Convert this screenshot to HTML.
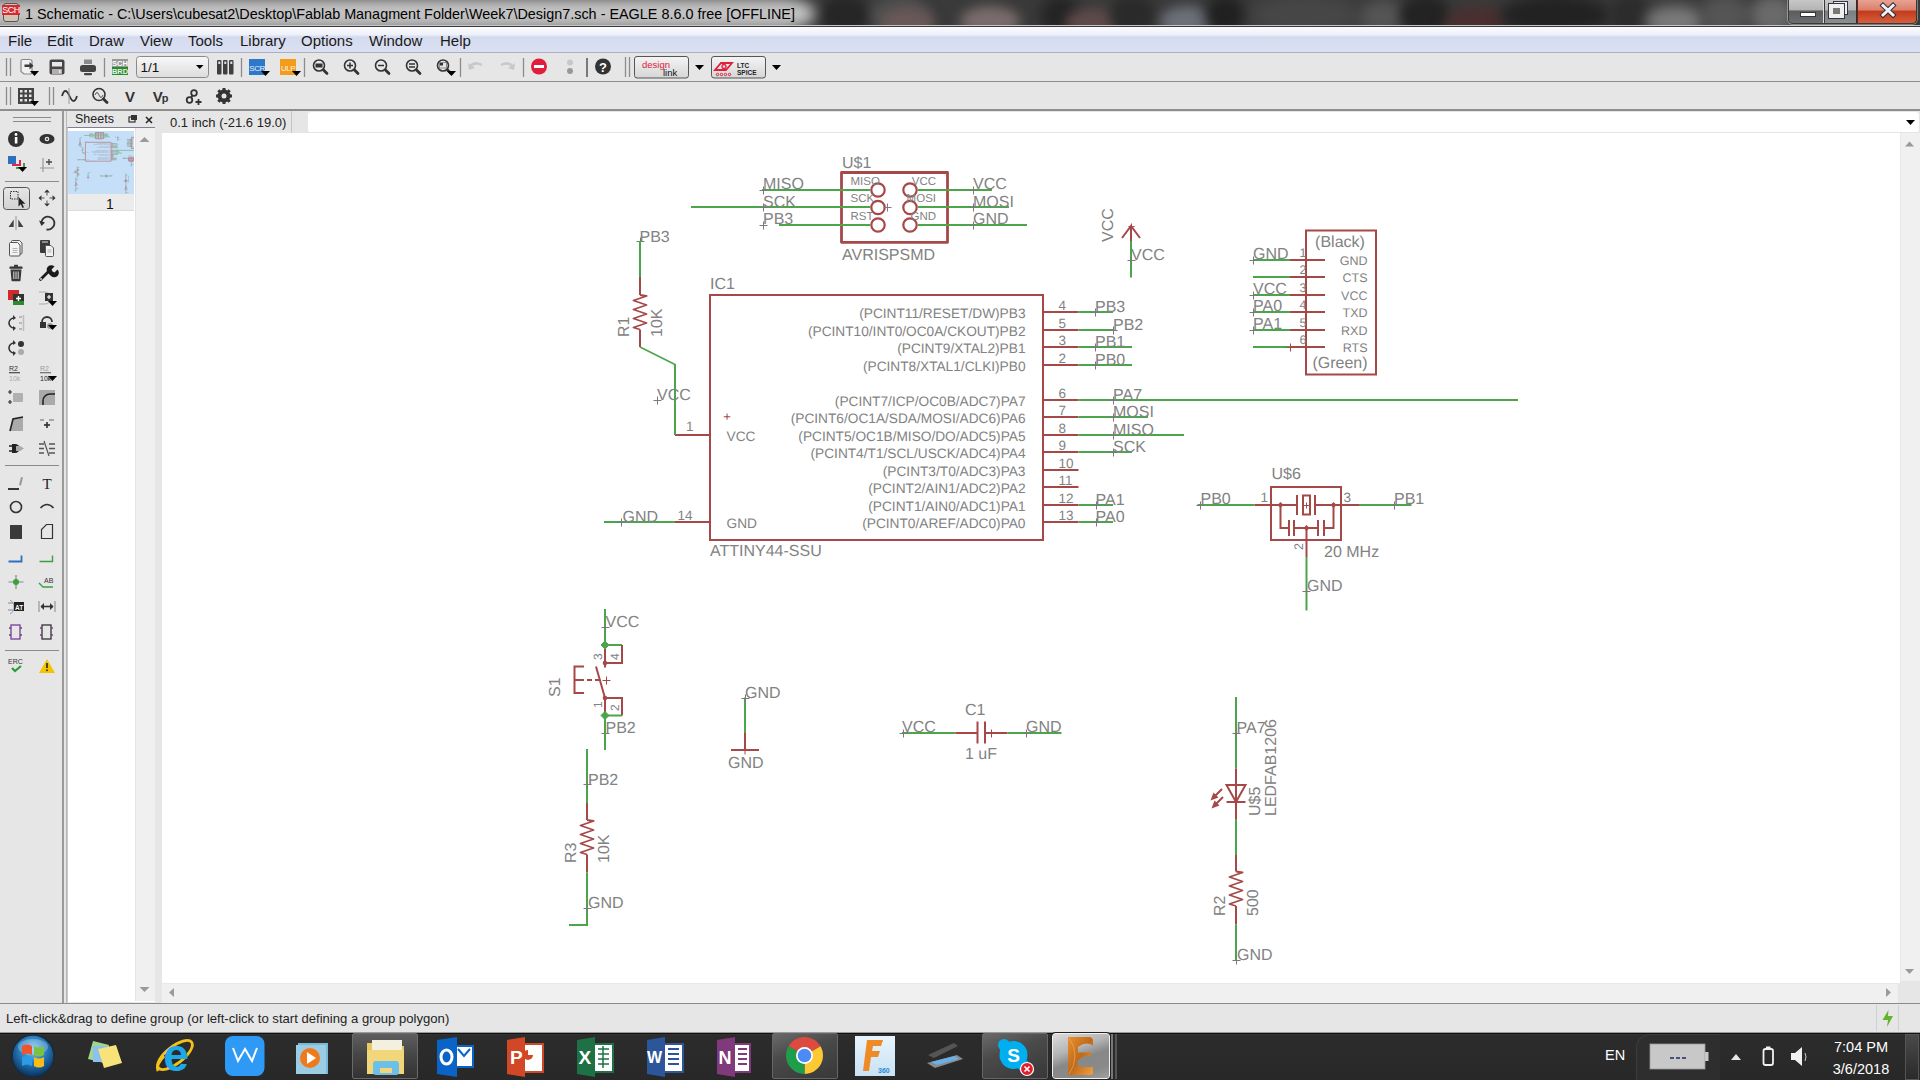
<!DOCTYPE html>
<html><head><meta charset="utf-8">
<style>
*{margin:0;padding:0;box-sizing:border-box}
html,body{width:1920px;height:1080px;overflow:hidden;background:#e6e6e6;font-family:"Liberation Sans",sans-serif}
.a{position:absolute}
#title{left:0;top:0;width:1920px;height:27px;background:#3a3a3a;overflow:hidden}
#menu{left:0;top:27px;width:1920px;height:26px;background:linear-gradient(180deg,#fbfcfe 0,#eef1f9 30%,#d5dbef 40%,#dbe1f2 100%);border-bottom:1px solid #a9b0c2}
#menu span{position:absolute;top:5px;font-size:15px;color:#1a1a1a}
#tb1{left:0;top:53px;width:1920px;height:29px;background:#e6e6e6;border-bottom:1px solid #8e8e8e}
#tb2{left:0;top:82px;width:1920px;height:29px;background:#e6e6e6;border-bottom:2px solid #8e8e8e}
#leftbar{left:0;top:111px;width:63px;height:893px;background:#e6e6e6;border-right:1px solid #9a9a9a}
#sheets{left:65px;top:111px;width:92px;height:893px;background:#e6e6e6}
#canvas{left:162px;top:133px;width:1738px;height:850px;background:#fff}
#status{left:0;top:1003px;width:1920px;height:30px;background:#e6e6e6;border-top:1px solid #8a8a8a}
#taskbar{left:0;top:1032px;width:1920px;height:48px;background:linear-gradient(180deg,#3a3a3a 0,#2c2c2c 8%,#282828 100%)}
.sep{position:absolute;width:2px;background:#8a8a8a}
</style></head><body>
<div id="title" class="a">
<div class="a" style="left:820px;top:-5px;width:50px;height:40px;background:#262626;border-radius:50%;filter:blur(6px)"></div><div class="a" style="left:870px;top:-5px;width:60px;height:40px;background:#4e4e4e;border-radius:50%;filter:blur(6px)"></div><div class="a" style="left:880px;top:8px;width:55px;height:30px;background:#6a5858;border-radius:50%;filter:blur(6px)"></div><div class="a" style="left:960px;top:6px;width:60px;height:30px;background:#7a6c6c;border-radius:50%;filter:blur(6px)"></div><div class="a" style="left:1040px;top:-5px;width:40px;height:40px;background:#242424;border-radius:50%;filter:blur(7px)"></div><div class="a" style="left:1065px;top:8px;width:55px;height:30px;background:#5e4a4a;border-radius:50%;filter:blur(6px)"></div><div class="a" style="left:1110px;top:-5px;width:45px;height:40px;background:#2a2a2a;border-radius:50%;filter:blur(6px)"></div><div class="a" style="left:1160px;top:6px;width:55px;height:30px;background:#6c7078;border-radius:50%;filter:blur(6px)"></div><div class="a" style="left:1205px;top:-5px;width:40px;height:40px;background:#202020;border-radius:50%;filter:blur(7px)"></div><div class="a" style="left:1250px;top:-5px;width:110px;height:40px;background:#474747;border-radius:50%;filter:blur(8px)"></div><div class="a" style="left:1360px;top:0px;width:45px;height:35px;background:#555;border-radius:50%;filter:blur(7px)"></div><div class="a" style="left:1400px;top:-5px;width:50px;height:40px;background:#232323;border-radius:50%;filter:blur(6px)"></div><div class="a" style="left:1445px;top:8px;width:65px;height:30px;background:#4c2e2e;border-radius:50%;filter:blur(7px)"></div><div class="a" style="left:1500px;top:-5px;width:110px;height:40px;background:#222;border-radius:50%;filter:blur(7px)"></div><div class="a" style="left:1610px;top:-5px;width:40px;height:40px;background:#2c2c2c;border-radius:50%;filter:blur(6px)"></div><div class="a" style="left:1645px;top:6px;width:60px;height:30px;background:#7a7a7a;border-radius:50%;filter:blur(7px)"></div><div class="a" style="left:1700px;top:-5px;width:50px;height:40px;background:#555;border-radius:50%;filter:blur(7px)"></div><div class="a" style="left:1750px;top:-5px;width:45px;height:40px;background:#6a6a6a;border-radius:50%;filter:blur(7px)"></div>
<div class="a" style="left:-30px;top:-3px;width:845px;height:34px;border-radius:0 40px 40px 0/0 17px 17px 0;background:linear-gradient(180deg,#9a9a9a 0,#cdcdcd 30%,#c2c2c2 65%,#a6a6a6 100%);filter:blur(7px)"></div>
<div class="a" style="left:3px;top:3px;width:16px;height:19px;border:1px solid #555;border-radius:3px;background:#cfc4b4"></div>
<div class="a" style="left:2px;top:5px;width:18px;height:10px;background:#d42b32;color:#fff;font-size:9px;line-height:10px;text-align:center;letter-spacing:-.5px">SCH</div>
<div class="a" style="left:25px;top:6px;font-size:14.4px;color:#000;white-space:nowrap">1 Schematic - C:\Users\cubesat2\Desktop\Fablab Managment Folder\Week7\Design7.sch - EAGLE 8.6.0 free [OFFLINE]</div>
<div class="a" style="left:1788px;top:-1px;width:129px;height:25px;border:1px solid #3a3a3a;border-top:none;border-radius:0 0 5px 5px;overflow:hidden;box-shadow:0 0 0 1px rgba(255,255,255,.35)">
<div class="a" style="left:0;top:0;width:35px;height:24px;background:linear-gradient(180deg,#c9c9c9 0,#b4b4b4 45%,#5c5c5c 50%,#6a6f70 100%);border-right:1px solid #ddd"></div>
<div class="a" style="left:36px;top:0;width:32px;height:24px;background:linear-gradient(180deg,#c9c9c9 0,#b4b4b4 45%,#7a7f80 50%,#8a9090 100%);border-right:1px solid #5a1a10"></div>
<div class="a" style="left:69px;top:0;width:60px;height:24px;background:linear-gradient(180deg,#eaa696 0,#d9806c 45%,#c43a1c 52%,#d6603e 100%)"></div>
<div class="a" style="left:11px;top:13px;width:16px;height:5px;background:#fff;border:1px solid #334"></div>
<div class="a" style="left:44px;top:2px;width:15px;height:14px;background:#eee;border:1px solid #334"></div>
<div class="a" style="left:40px;top:5px;width:15px;height:14px;border:4px solid #eee;outline:1px solid #334;background:#777"></div>
<svg class="a" style="left:84px;top:0" width="30" height="24"><path d="M10 6.5 L20 16 M20 6.5 L10 16" stroke="#2a3040" stroke-width="5" stroke-linecap="square"/><path d="M10 6.5 L20 16 M20 6.5 L10 16" stroke="#f2f2f2" stroke-width="3" stroke-linecap="square"/></svg>
</div>
<div class="a" style="left:0;top:25px;width:1920px;height:1px;background:#c6c6c6"></div>
<div class="a" style="left:0;top:26px;width:1920px;height:1px;background:#3a3a3a"></div>
</div>
<div id="menu" class="a">
<span style="left:8px">File</span><span style="left:47px">Edit</span><span style="left:89px">Draw</span><span style="left:140px">View</span><span style="left:188px">Tools</span><span style="left:240px">Library</span><span style="left:301px">Options</span><span style="left:369px">Window</span><span style="left:440px">Help</span>
</div>
<div id="tb1" class="a"></div>
<div id="tb2" class="a"></div>
<svg class="a" style="left:0;top:53px" width="800" height="58" viewBox="0 53 800 58">
<g stroke="#8c8c8c" stroke-width="1.3">
<line x1="6.5" y1="58" x2="6.5" y2="76"/><line x1="10.5" y1="58" x2="10.5" y2="76"/>
<line x1="104.5" y1="58" x2="104.5" y2="77"/><line x1="241.5" y1="58" x2="241.5" y2="77"/>
<line x1="304.5" y1="58" x2="304.5" y2="77"/><line x1="460.5" y1="58" x2="460.5" y2="77"/>
<line x1="523.5" y1="58" x2="523.5" y2="77"/><line x1="625.5" y1="57" x2="625.5" y2="77"/><line x1="629.5" y1="57" x2="629.5" y2="77"/>
<line x1="6.5" y1="87" x2="6.5" y2="105"/><line x1="10.5" y1="87" x2="10.5" y2="105"/>
<line x1="49.5" y1="87" x2="49.5" y2="105"/><line x1="53.5" y1="87" x2="53.5" y2="105"/>
</g>
<line x1="587" y1="58" x2="587" y2="77" stroke="#555" stroke-width="1.5"/>
<!-- open -->
<path d="M21 61 q0-1.5 1.5-1.5 h7 q2 0 2.5 1.5 v11 q0 2-2 2 h-6 l-3-2.5z" fill="#f0f0f0" stroke="#888" stroke-width="1.2"/>
<path d="M24.5 64.5 h5 v-2.5 l4 3.7 -4 3.7 v-2.5 h-5z" fill="#3a3a3a"/>
<path d="M30 71 h9 l-4.5 5z" fill="#000"/>
<!-- save -->
<rect x="49.5" y="59.5" width="15" height="15" rx="2" fill="#454545"/>
<rect x="52" y="62" width="10" height="4.5" fill="#e6e6e6"/>
<rect x="52" y="69" width="10" height="5" fill="#b4aeae"/>
<rect x="59" y="70" width="1.5" height="3" fill="#eee"/>
<!-- print -->
<rect x="84" y="59.5" width="8" height="4.5" fill="#8a8a8a"/>
<rect x="80" y="65" width="16" height="7" rx="2.5" fill="#444"/>
<rect x="84" y="73" width="8" height="2.2" rx="1" fill="#444"/>
<!-- sch brd -->
<rect x="112" y="59" width="16" height="8" fill="#9a9a9a"/>
<rect x="112" y="67" width="16" height="8" fill="#2b8a2b"/>
<text x="120" y="65.8" font-size="7.5" fill="#fff" text-anchor="middle" font-family="Liberation Sans" font-weight="bold">SCH</text>
<text x="120" y="74" font-size="7.5" fill="#e8f5e8" text-anchor="middle" font-family="Liberation Sans" font-weight="bold">BRD</text>
<!-- combo -->
<defs><linearGradient id="cg" x1="0" y1="0" x2="0" y2="1"><stop offset="0" stop-color="#f8f8f8"/><stop offset="1" stop-color="#dcdcdc"/></linearGradient>
<linearGradient id="bg2" x1="0" y1="0" x2="0" y2="1"><stop offset="0" stop-color="#f4f4f4"/><stop offset="1" stop-color="#d6d6d6"/></linearGradient></defs>
<rect x="136.5" y="56.5" width="72" height="21" rx="3" fill="url(#cg)" stroke="#8a8a8a"/>
<text x="140.5" y="72" font-size="13.5" fill="#111" font-family="Liberation Sans">1/1</text>
<path d="M196 65 h7.5 l-3.75 4z" fill="#000"/>
<!-- books -->
<g fill="#3f3f3f"><rect x="217" y="60" width="4.5" height="14.5" rx="1"/><rect x="223" y="60" width="4.5" height="14.5" rx="1"/><rect x="229" y="60" width="4.5" height="14.5" rx="1"/></g>
<g fill="#ddd"><rect x="218.3" y="61.5" width="2" height="2.5"/><rect x="224.3" y="61.5" width="2" height="2.5"/><rect x="230.3" y="61.5" width="2" height="2.5"/></g>
<!-- scr ulp -->
<rect x="249" y="59" width="16" height="16" fill="#2d78c8"/>
<text x="257" y="70.5" font-size="8" fill="#e8f0ff" text-anchor="middle" font-family="Liberation Sans" letter-spacing="-.5">SCR</text>
<path d="M261 71 h9 l-4.5 5z" fill="#000"/>
<rect x="280" y="59" width="16" height="16" fill="#f39c1c"/>
<text x="288" y="70.5" font-size="8" fill="#fff3e0" text-anchor="middle" font-family="Liberation Sans" letter-spacing="-.5">ULP</text>
<path d="M292 71 h9 l-4.5 5z" fill="#000"/>
<!-- zooms -->
<g stroke="#333" stroke-width="1.6" fill="none">
<circle cx="319" cy="65.5" r="5.5"/><circle cx="350" cy="65.5" r="5.5"/><circle cx="381" cy="65.5" r="5.5"/><circle cx="412" cy="65.5" r="5.5"/><circle cx="443" cy="65.5" r="5.5"/>
</g>
<g stroke="#333" stroke-width="2.8" stroke-linecap="round">
<line x1="323.5" y1="70" x2="327" y2="73.5"/><line x1="354.5" y1="70" x2="358" y2="73.5"/><line x1="385.5" y1="70" x2="389" y2="73.5"/><line x1="416.5" y1="70" x2="420" y2="73.5"/><line x1="447.5" y1="70" x2="451" y2="73.5"/>
</g>
<rect x="315.5" y="63.5" width="7" height="4" fill="#333"/>
<path d="M347 65.5 h6 M350 62.5 v6" stroke="#333" stroke-width="1.5"/>
<path d="M378 65.5 h6" stroke="#333" stroke-width="1.5"/>
<path d="M409 64 h6 M409 67 h6" stroke="#333" stroke-width="1.3"/>
<rect x="440" y="63" width="3" height="2.5" fill="#333"/><rect x="439.5" y="62.5" width="7" height="5.5" fill="none" stroke="#777" stroke-width=".8"/>
<path d="M447 71 h9 l-4.5 5z" fill="#000"/>
<!-- undo redo -->
<path d="M470 67 q4-6 12-2" stroke="#c8c8c8" stroke-width="2.5" fill="none"/><path d="M468 63 l1 7 6-2z" fill="#c8c8c8"/>
<path d="M513 67 q-4-6 -12-2" stroke="#c8c8c8" stroke-width="2.5" fill="none"/><path d="M515 63 l-1 7 -6-2z" fill="#c8c8c8"/>
<!-- stop -->
<circle cx="539" cy="66.5" r="8" fill="#e01e3c"/><rect x="534" y="65" width="10" height="3" fill="#fff"/>
<circle cx="570" cy="62.5" r="3" fill="#c8c8c8"/><circle cx="570" cy="71" r="3" fill="#999"/>
<!-- help -->
<circle cx="603" cy="66.5" r="8" fill="#333"/>
<text x="603" y="71.5" font-size="13" font-weight="bold" fill="#fff" text-anchor="middle" font-family="Liberation Sans">?</text>
<!-- designlink -->
<rect x="634.5" y="56.5" width="54" height="21.5" rx="2.5" fill="url(#bg2)" stroke="#555"/>
<text x="642" y="68" font-size="9.5" fill="#e0203c" font-family="Liberation Sans">design</text>
<text x="663" y="76" font-size="9.5" fill="#111" font-family="Liberation Sans">link</text>
<path d="M695 65 h9 l-4.5 5z" fill="#000"/>
<rect x="711.5" y="56.5" width="54" height="21.5" rx="2.5" fill="url(#bg2)" stroke="#555"/>
<path d="M715 70 l6-7 h11 l-6 7z" fill="none" stroke="#e0203c" stroke-width="1.8"/>
<circle cx="724" cy="66.5" r="2" fill="none" stroke="#e0203c" stroke-width="1.3"/>
<g fill="none" stroke="#e0203c" stroke-width="1"><circle cx="717.5" cy="74.5" r="1.2"/><circle cx="721.5" cy="74.5" r="1.2"/><circle cx="725.5" cy="74.5" r="1.2"/><circle cx="729.5" cy="74.5" r="1.2"/></g>
<text x="737" y="68" font-size="6.5" fill="#222" font-family="Liberation Sans" font-weight="bold">LTC</text>
<text x="737" y="75" font-size="6.5" fill="#222" font-family="Liberation Sans" font-weight="bold">SPICE</text>
<path d="M772 65 h9 l-4.5 5z" fill="#000"/>
<!-- toolbar 2 -->
<g fill="#444"><rect x="18" y="88" width="16" height="16"/></g>
<g fill="#e6e6e6"><rect x="20" y="90" width="2.5" height="2.5"/><rect x="24.5" y="90" width="2.5" height="2.5"/><rect x="29" y="90" width="2.5" height="2.5"/>
<rect x="20" y="94.5" width="2.5" height="2.5"/><rect x="24.5" y="94.5" width="2.5" height="2.5"/><rect x="29" y="94.5" width="2.5" height="2.5"/>
<rect x="20" y="99" width="2.5" height="2.5"/><rect x="24.5" y="99" width="2.5" height="2.5"/><rect x="29" y="99" width="2.5" height="2.5"/></g>
<path d="M30 101 h9 l-4.5 5z" fill="#000"/>
<path d="M62 96 q3-10 7.5 0 t7.5 0" stroke="#333" stroke-width="1.8" fill="none"/><line x1="69" y1="88" x2="69" y2="104" stroke="#999" stroke-width="1"/>
<circle cx="99" cy="94.5" r="6" stroke="#333" stroke-width="1.6" fill="none"/><path d="M95 95 q2-5 4 0 t4 0" stroke="#555" stroke-width="1" fill="none"/><line x1="103.5" y1="99" x2="107" y2="102.5" stroke="#333" stroke-width="2.8" stroke-linecap="round"/>
<text x="130" y="101.5" font-size="15" font-weight="bold" fill="#333" text-anchor="middle" font-family="Liberation Sans">V</text>
<text x="160" y="101.5" font-size="15" font-weight="bold" fill="#333" text-anchor="middle" font-family="Liberation Sans" letter-spacing="-1">V<tspan font-size="11">p</tspan></text>
<g stroke="#333" stroke-width="1.8" fill="none"><circle cx="189.5" cy="100" r="2.8"/><circle cx="194" cy="93" r="2.8"/><path d="M191 98 l1.5-3"/><path d="M198.5 99 v6 M195.5 102 h6"/></g>
<g transform="translate(224,96)"><circle r="5" fill="none" stroke="#333" stroke-width="3"/>
<g stroke="#333" stroke-width="3"><line x1="0" y1="-8" x2="0" y2="8"/><line x1="-8" y1="0" x2="8" y2="0"/><line x1="-5.7" y1="-5.7" x2="5.7" y2="5.7"/><line x1="-5.7" y1="5.7" x2="5.7" y2="-5.7"/></g><circle r="2.5" fill="#e6e6e6"/></g>
</svg>
<div id="leftbar" class="a"></div>
<svg class="a" style="left:0;top:111px" width="64" height="600" viewBox="0 111 64 600">
<g stroke="#8a8a8a" stroke-width="1"><line x1="13" y1="117.5" x2="51" y2="117.5"/><line x1="13" y1="121.5" x2="51" y2="121.5"/>
<line x1="5" y1="181.5" x2="59" y2="181.5"/><line x1="5" y1="465.5" x2="59" y2="465.5"/><line x1="5" y1="650.5" x2="59" y2="650.5"/></g>
<!-- row1 -->
<circle cx="16" cy="139" r="8" fill="#333"/><rect x="14.8" y="137" width="2.6" height="6.5" fill="#fff"/><circle cx="16" cy="134.5" r="1.4" fill="#fff"/>
<ellipse cx="47" cy="139" rx="7.5" ry="5" fill="#333"/><circle cx="47" cy="139" r="2.3" fill="#e6e6e6"/><circle cx="47" cy="139" r="1" fill="#333"/>
<!-- row2 -->
<rect x="8" y="156" width="8" height="8" fill="#2f6fc0"/><path d="M12 164 h7 v-4 h2 v6 h-9z" fill="#e0245a"/><path d="M16 167 h7 v-4 h2 v6 h-9z" fill="#3aa040"/><path d="M18 167 h9 l-4.5 5z" fill="#000"/>
<path d="M43 158 v14 M40 168 h14" stroke="#999" stroke-width="1.2"/><path d="M46 162 h6 M49 159 v6" stroke="#444" stroke-width="1.3"/>
<!-- row3 -->
<defs><linearGradient id="selg" x1="0" y1="0" x2="0" y2="1"><stop offset="0" stop-color="#e6e6e6"/><stop offset="1" stop-color="#d2d2d2"/></linearGradient></defs>
<rect x="3.5" y="187.5" width="26" height="22" rx="3" fill="url(#selg)" stroke="#555"/>
<rect x="10.5" y="191.5" width="7.5" height="7.5" fill="none" stroke="#333" stroke-width="1" stroke-dasharray="1.5 1"/>
<path d="M18.5 197 v9.5 l2.3-2.2 1.8 3.6 1.4-.7 -1.8-3.5 h3.2z" fill="#222"/>
<path d="M47 189.5 l-2.8 3 h5.6z M47 206.5 l-2.8-3 h5.6z M38.5 198 l3-2.8 v5.6z M55.5 198 l-3-2.8 v5.6z" fill="#333"/>
<path d="M47 192.5 v3 M47 200.5 v3 M41.5 198 h3 M49.5 198 h3" stroke="#555" stroke-width="1"/>
<!-- row4 -->
<path d="M8.5 227 l5.2-7.5 v7.5z M23.5 227 l-5.2-7.5 v7.5z" fill="#444"/><line x1="16" y1="216" x2="16" y2="230" stroke="#b4b4b4" stroke-width="1.6"/>
<path d="M41.5 222 a6.5 6.5 0 1 1 5 7.5" fill="none" stroke="#333" stroke-width="1.8"/><path d="M39 220.5 l2.5 5.5 3.5-3.5z" fill="#333"/>
<!-- row5 copy paste -->
<path d="M12.5 240.5 h7 l2.5 2.5 v10 q0 1-1 1 h-8.5 q-1 0-1-1 v-11.5 q0-1 1-1z" fill="#f0f0f0" stroke="#555" stroke-width="1"/>
<path d="M10.5 242.5 h7 l2.5 2.5 v10 q0 1-1 1 h-8.5 q-1 0-1-1 v-11.5 q0-1 1-1z" fill="#f4f4f4" stroke="#555" stroke-width="1"/>
<path d="M12.5 248.5 h5 M12.5 250.5 h5 M12.5 252.5 h5" stroke="#aaa" stroke-width=".9"/>
<rect x="40" y="240" width="10" height="13" rx="1" fill="#3a3a3a"/><rect x="42" y="241.5" width="6" height="1" fill="#ddd"/>
<path d="M46.5 245.5 h4.5 l2.5 2.5 v7.5 q0 1-1 1 h-6 q-1 0-1-1 v-9 q0-1 1-1z" fill="#f2f2f2" stroke="#555" stroke-width="1"/><path d="M47.5 250 h4 M47.5 252 h4" stroke="#aaa" stroke-width=".9"/>
<!-- row6 delete wrench -->
<rect x="9.5" y="266.5" width="13" height="2.2" rx=".5" fill="#333"/><rect x="14" y="264.8" width="4" height="2" fill="#333"/><path d="M10.5 269.5 h11 l-1 11 q0 .8 -.8 .8 h-7.4 q-.8 0 -.8-.8z" fill="#3a3a3a"/><path d="M13.8 271.5 v7.5 M16 271.5 v7.5 M18.2 271.5 v7.5" stroke="#e0e0e0" stroke-width="1"/>
<path d="M40.5 279.5 l8.5-8.5" stroke="#1a1a1a" stroke-width="2.8" stroke-linecap="round"/><path d="M48 273 a4.5 4.5 0 0 1 6.5-6.5 l-3 3 1 2 2 1 3-3 a4.5 4.5 0 0 1 -6.5 6.5z" fill="#1a1a1a"/>
<circle cx="41" cy="279" r=".9" fill="#e6e6e6"/>
<!-- row7 add replace -->
<rect x="8" y="290" width="11" height="10" fill="#d02a2a"/><rect x="13" y="294" width="11" height="9" fill="#333"/><rect x="13" y="301" width="11" height="4" fill="#2d8a2d"/><path d="M16 298.5 h5 M18.5 296 v5" stroke="#fff" stroke-width="1.4"/>
<path d="M39 292 h6 a6 6 0 0 1 0 12 h-6" fill="none" stroke="#aaa" stroke-width="1"/><rect x="45" y="293" width="8" height="8" fill="#333"/><path d="M47 297 h4 M49 295 v4" stroke="#fff" stroke-width="1.2"/><path d="M48 301 h9 l-4.5 5z" fill="#000"/>
<!-- row8 -->
<path d="M14 318 a5 5 0 1 0 0 10" fill="none" stroke="#333" stroke-width="1.6"/><path d="M13 315 l3 3 -3 2z M13 331 l3 -3 -3 -2z" fill="#333"/><path d="M19 317 h3 M19 323 h3 M19 329 h3" stroke="#888" stroke-width="1.2"/><line x1="23.5" y1="315" x2="23.5" y2="331" stroke="#bbb" stroke-width="1.5"/>
<path d="M42 322 a5 5 0 0 1 10 0" fill="none" stroke="#333" stroke-width="1.8"/><rect x="40" y="322" width="6" height="6" fill="#333"/><circle cx="50" cy="326" r="3" fill="#999"/><path d="M48 325 h9 l-4.5 5z" fill="#000"/>
<!-- row9 -->
<path d="M14 343 a5 5 0 1 0 0 10" fill="none" stroke="#333" stroke-width="1.6"/><path d="M13 340 l3 3 -3 2z M13 356 l3 -3 -3 -2z" fill="#333"/><circle cx="21" cy="344" r="3" fill="#333"/><circle cx="21" cy="352" r="3" fill="#aaa"/>
<!-- row10 R2 -->
<text x="9" y="371" font-size="7" fill="#333" font-family="Liberation Sans">R2</text><rect x="9" y="372" width="11" height="1.3" fill="#555"/><text x="9" y="380.5" font-size="7" fill="#aaa" font-family="Liberation Sans">10k</text>
<text x="40" y="371" font-size="7" fill="#999" font-family="Liberation Sans">R2</text><rect x="40" y="372" width="11" height="1.3" fill="#777"/><text x="40" y="380.5" font-size="7" fill="#222" font-family="Liberation Sans">10k</text><path d="M48 376 h9 l-4.5 5z" fill="#000"/>
<!-- row11 -->
<path d="M8 392 h4 M10 390 v4 M8 402 h4 M10 400 v4" stroke="#333" stroke-width="1.2"/><rect x="13" y="393" width="10" height="9" rx="1" fill="#b0b0b0"/>
<rect x="39" y="390" width="16" height="15" fill="#aaa"/><path d="M43 405 v-4 a7 7 0 0 1 7 -7 h5" fill="none" stroke="#222" stroke-width="1.6"/><rect x="55" y="390" width="2" height="15" fill="#e6e6e6"/>
<!-- row12 -->
<path d="M10 431 l3-12 l10-2 v14z" fill="#aaa"/><path d="M10 431 l3-12 l10-2" fill="none" stroke="#222" stroke-width="1.6"/>
<path d="M40 420 h4 M49 420 h5 M47 422 v6 M44 425 h6" stroke="#666" stroke-width="1.2"/><path d="M44 425 h6 M47 422 v6" stroke="#333" stroke-width="1.4"/>
<!-- row13 -->
<path d="M9 446 h3 M9 451 h3" stroke="#222" stroke-width="1.3"/><path d="M12 444 h3 a4.5 4.5 0 0 1 0 9 h-3z" fill="#222"/><path d="M16 446 h4 l4 2.5 -4 2.5 h-4z" fill="#aaa"/>
<path d="M39 444 h5 M39 448.5 h5 M39 453 h5 M49 444 h6 M49 448.5 h6 M49 453 h6" stroke="#555" stroke-width="1.5"/><line x1="44" y1="441" x2="49" y2="456" stroke="#555" stroke-width="1.2"/>
<!-- row14 line T -->
<path d="M8 489 h11" stroke="#222" stroke-width="1.8"/><path d="M19 485 l2-8 2 .5 -2 8z" fill="#999"/>
<text x="47" y="489" font-size="15" font-family="Liberation Serif" fill="#222" text-anchor="middle">T</text>
<!-- row15 -->
<circle cx="16" cy="507" r="5.5" fill="none" stroke="#333" stroke-width="1.6"/>
<path d="M40.5 508 q6.5-7 13 0" fill="none" stroke="#333" stroke-width="1.6"/>
<!-- row16 -->
<rect x="10" y="525" width="12" height="14" fill="#3a3a3a"/>
<path d="M41.5 538.5 v-9 l5-5 h6 v14z" fill="none" stroke="#333" stroke-width="1.2"/>
<!-- row17 -->
<path d="M8.5 561.5 h13 v-6" fill="none" stroke="#2f6fc0" stroke-width="1.8"/>
<path d="M39.5 561.5 h13 v-6" fill="none" stroke="#3aa040" stroke-width="1.4"/>
<!-- row18 -->
<path d="M8.5 582 h15 M16 575 v14" stroke="#888" stroke-width="1.2"/><circle cx="16" cy="582" r="3" fill="#3aa040"/>
<path d="M39 583 l4 4 h10" fill="none" stroke="#3aa040" stroke-width="1.4"/><text x="44" y="583" font-size="7" fill="#333" font-family="Liberation Sans">AB</text>
<!-- row19 -->
<path d="M8 603 h5 M8 610 h5" stroke="#888" stroke-width="1"/><path d="M10 600 a8 8 0 0 1 0 14" fill="none" stroke="#999" stroke-width="1"/><rect x="14" y="602" width="10" height="9" fill="#222"/><text x="15" y="610" font-size="6.5" fill="#fff" font-family="Liberation Sans" font-weight="bold">AT</text>
<path d="M39 601 v11 M55 601 v11" stroke="#888" stroke-width="1"/><path d="M41 606.5 h12" stroke="#333" stroke-width="1.6"/><path d="M40.5 606.5 l3.5-3.5 v7z M53.5 606.5 l-3.5-3.5 v7z" fill="#333"/>
<!-- row20 -->
<rect x="11" y="625" width="9" height="14" fill="none" stroke="#7a3c9a" stroke-width="1.3"/><path d="M9 628 h2 M9 635 h2 M20 628 h2 M20 635 h2" stroke="#555" stroke-width="1.4"/>
<rect x="42" y="625" width="9" height="14" fill="none" stroke="#333" stroke-width="1.3"/><path d="M40 628 h2 M40 635 h2 M51 628 h2 M51 635 h2" stroke="#7a3c9a" stroke-width="1.4"/>
<!-- row21 ERC warn -->
<text x="8" y="664" font-size="7" fill="#333" font-family="Liberation Sans">ERC</text><path d="M12 668 l3 3 6-5" fill="none" stroke="#2d9a3a" stroke-width="2.2"/>
<path d="M47 659 l8 14 h-16z" fill="#f5c400"/><rect x="46.2" y="663" width="1.6" height="5" fill="#222"/><rect x="46.2" y="669.5" width="1.6" height="1.6" fill="#222"/>
</svg>
<div id="sheets" class="a"></div>
<div class="a" style="left:63px;top:111px;width:1px;height:892px;background:#9a9a9a"></div>
<div class="a" style="left:66px;top:111px;width:1px;height:892px;background:#b8b8b8"></div>
<div class="a" style="left:75px;top:112px;font-size:12.5px;color:#222">Sheets</div>
<svg class="a" style="left:126px;top:113px" width="30" height="14"><rect x="3" y="4" width="6" height="5" fill="none" stroke="#333" stroke-width="1.2"/><rect x="5" y="2" width="6" height="5" fill="#333"/><path d="M20 4 l6 6 M26 4 l-6 6" stroke="#222" stroke-width="1.5"/></svg>
<div class="a" style="left:67px;top:127px;width:88px;height:875px;background:#fff;border-top:1px solid #7c8290;border-left:1px solid #c8c8c8"></div>

<div class="a" style="left:68px;top:194px;width:66px;height:17px;background:#ebebeb;border-bottom:1px solid #ddd;text-align:center;font-size:14px;line-height:17px;color:#111;padding:2px 0 0 18px">1</div>
<div class="a" style="left:135px;top:128px;width:20px;height:873px;background:#f0f0f0;border-left:1px solid #e4e4e4"></div>
<svg class="a" style="left:135px;top:128px" width="20" height="873"><path d="M4.5 14 l5-5 5 5z" fill="#9a9a9a"/><path d="M4.5 859 l5 5 5-5z" fill="#9a9a9a"/></svg>
<div class="a" style="left:155px;top:127px;width:7px;height:876px;background:#e6e6e6"></div>
<div class="a" style="left:170px;top:115px;font-size:13px;color:#222;white-space:nowrap">0.1 inch (-21.6 19.0)</div>
<div class="a" style="left:291px;top:111px;width:1px;height:22px;background:#c4c4c4"></div>
<div class="a" style="left:308px;top:112px;width:1611px;height:21px;background:#fff;border-radius:3px;border-bottom:1px solid #dfe6ee"></div>
<svg class="a" style="left:1900px;top:112px" width="20" height="20"><path d="M6 8 h9 l-4.5 5z" fill="#000"/></svg>
<div id="canvas" class="a"></div>
<!--SCH--><svg class="a" style="left:161px;top:133px" width="1739" height="850" viewBox="161 133 1739 850" font-family="Liberation Sans" text-rendering="geometricPrecision"><g id="schg"><text x="842" y="168" font-size="16" fill="#828282">U$1</text><rect x="841.5" y="172.5" width="106" height="69.8" stroke="#a74848" style="stroke-width:calc(var(--k,1)*2.8px)" vector-effect="non-scaling-stroke" fill="none" stroke-linejoin="round"/><circle cx="878" cy="190" r="6.7" stroke="#a74848" style="stroke-width:calc(var(--k,1)*2.2px)" vector-effect="non-scaling-stroke" fill="none"/><circle cx="910" cy="190" r="6.7" stroke="#a74848" style="stroke-width:calc(var(--k,1)*2.2px)" vector-effect="non-scaling-stroke" fill="none"/><circle cx="878" cy="207.5" r="6.7" stroke="#a74848" style="stroke-width:calc(var(--k,1)*2.2px)" vector-effect="non-scaling-stroke" fill="none"/><circle cx="910" cy="207.5" r="6.7" stroke="#a74848" style="stroke-width:calc(var(--k,1)*2.2px)" vector-effect="non-scaling-stroke" fill="none"/><circle cx="878" cy="225" r="6.7" stroke="#a74848" style="stroke-width:calc(var(--k,1)*2.2px)" vector-effect="non-scaling-stroke" fill="none"/><circle cx="910" cy="225" r="6.7" stroke="#a74848" style="stroke-width:calc(var(--k,1)*2.2px)" vector-effect="non-scaling-stroke" fill="none"/><text x="850.5" y="184.5" font-size="11.5" fill="#828282">MISO</text><text x="850.5" y="202" font-size="11.5" fill="#828282">SCK</text><text x="850.5" y="219.5" font-size="11.5" fill="#828282">RST</text><text x="936" y="184.5" font-size="11.5" text-anchor="end" fill="#828282">VCC</text><text x="936" y="202" font-size="11.5" text-anchor="end" fill="#828282">MOSI</text><text x="936" y="219.5" font-size="11.5" text-anchor="end" fill="#828282">GND</text><line x1="762" y1="190" x2="870" y2="190" stroke="#4ba64b" style="stroke-width:calc(var(--k,1)*2px)" vector-effect="non-scaling-stroke"/><line x1="691" y1="207" x2="870" y2="207" stroke="#4ba64b" style="stroke-width:calc(var(--k,1)*2px)" vector-effect="non-scaling-stroke"/><line x1="779" y1="225" x2="870" y2="225" stroke="#4ba64b" style="stroke-width:calc(var(--k,1)*2px)" vector-effect="non-scaling-stroke"/><line x1="918" y1="190" x2="992" y2="190" stroke="#4ba64b" style="stroke-width:calc(var(--k,1)*2px)" vector-effect="non-scaling-stroke"/><line x1="918" y1="207" x2="1009" y2="207" stroke="#4ba64b" style="stroke-width:calc(var(--k,1)*2px)" vector-effect="non-scaling-stroke"/><line x1="918" y1="225" x2="1027" y2="225" stroke="#4ba64b" style="stroke-width:calc(var(--k,1)*2px)" vector-effect="non-scaling-stroke"/><text x="763" y="189" font-size="16" fill="#828282">MISO</text><text x="763" y="206.5" font-size="16" fill="#828282">SCK</text><text x="763" y="224" font-size="16" fill="#828282">PB3</text><text x="973" y="189" font-size="16" fill="#828282">VCC</text><text x="973" y="206.5" font-size="16" fill="#828282">MOSI</text><text x="973" y="224" font-size="16" fill="#828282">GND</text><path d="M759.5 190.5h8M763.5 186.5v8" stroke="#7a7a7a" style="stroke-width:calc(var(--k,1)*1px)" vector-effect="non-scaling-stroke" fill="none"/><path d="M759.5 207.5h8M763.5 203.5v8" stroke="#7a7a7a" style="stroke-width:calc(var(--k,1)*1px)" vector-effect="non-scaling-stroke" fill="none"/><path d="M759.5 225.5h8M763.5 221.5v8" stroke="#7a7a7a" style="stroke-width:calc(var(--k,1)*1px)" vector-effect="non-scaling-stroke" fill="none"/><path d="M969.5 190.5h8M973.5 186.5v8" stroke="#7a7a7a" style="stroke-width:calc(var(--k,1)*1px)" vector-effect="non-scaling-stroke" fill="none"/><path d="M969.5 207.5h8M973.5 203.5v8" stroke="#7a7a7a" style="stroke-width:calc(var(--k,1)*1px)" vector-effect="non-scaling-stroke" fill="none"/><path d="M969.5 225.5h8M973.5 221.5v8" stroke="#7a7a7a" style="stroke-width:calc(var(--k,1)*1px)" vector-effect="non-scaling-stroke" fill="none"/><path d="M883.5 207.5h8M887.5 203.5v8" stroke="#7a7a7a" style="stroke-width:calc(var(--k,1)*1px)" vector-effect="non-scaling-stroke" fill="none"/><text x="842" y="259.5" font-size="16" fill="#828282">AVRISPSMD</text><path d="M1122 238 L1131 226 L1140 238" stroke="#a74848" style="stroke-width:calc(var(--k,1)*2px)" vector-effect="non-scaling-stroke" fill="none"/><line x1="1131" y1="226" x2="1131" y2="241" stroke="#a74848" style="stroke-width:calc(var(--k,1)*2px)" vector-effect="non-scaling-stroke"/><line x1="1131" y1="241" x2="1131" y2="277.5" stroke="#4ba64b" style="stroke-width:calc(var(--k,1)*2px)" vector-effect="non-scaling-stroke"/><text transform="translate(1113,242) rotate(-90)" font-size="16" fill="#828282">VCC</text><text x="1131" y="260" font-size="16" fill="#828282">VCC</text><path d="M1127.5 260.5h8M1131.5 256.5v8" stroke="#7a7a7a" style="stroke-width:calc(var(--k,1)*1px)" vector-effect="non-scaling-stroke" fill="none"/><path d="M1128.5 226.5h6M1131.5 223.5v6" stroke="#a74848" style="stroke-width:calc(var(--k,1)*1px)" vector-effect="non-scaling-stroke" fill="none"/><rect x="1306" y="230.5" width="70" height="144" stroke="#a74848" style="stroke-width:calc(var(--k,1)*2px)" vector-effect="non-scaling-stroke" fill="none"/><line x1="1290" y1="260" x2="1325" y2="260" stroke="#a74848" style="stroke-width:calc(var(--k,1)*2px)" vector-effect="non-scaling-stroke"/><line x1="1253" y1="260" x2="1290" y2="260" stroke="#4ba64b" style="stroke-width:calc(var(--k,1)*2px)" vector-effect="non-scaling-stroke"/><text x="1299.5" y="256.5" font-size="12.5" fill="#828282">1</text><line x1="1290" y1="277" x2="1325" y2="277" stroke="#a74848" style="stroke-width:calc(var(--k,1)*2px)" vector-effect="non-scaling-stroke"/><line x1="1253" y1="277" x2="1290" y2="277" stroke="#4ba64b" style="stroke-width:calc(var(--k,1)*2px)" vector-effect="non-scaling-stroke"/><text x="1299.5" y="273.5" font-size="12.5" fill="#828282">2</text><line x1="1290" y1="295" x2="1325" y2="295" stroke="#a74848" style="stroke-width:calc(var(--k,1)*2px)" vector-effect="non-scaling-stroke"/><line x1="1253" y1="295" x2="1290" y2="295" stroke="#4ba64b" style="stroke-width:calc(var(--k,1)*2px)" vector-effect="non-scaling-stroke"/><text x="1299.5" y="291.5" font-size="12.5" fill="#828282">3</text><line x1="1290" y1="312" x2="1325" y2="312" stroke="#a74848" style="stroke-width:calc(var(--k,1)*2px)" vector-effect="non-scaling-stroke"/><line x1="1253" y1="312" x2="1290" y2="312" stroke="#4ba64b" style="stroke-width:calc(var(--k,1)*2px)" vector-effect="non-scaling-stroke"/><text x="1299.5" y="308.5" font-size="12.5" fill="#828282">4</text><line x1="1290" y1="330" x2="1325" y2="330" stroke="#a74848" style="stroke-width:calc(var(--k,1)*2px)" vector-effect="non-scaling-stroke"/><line x1="1253" y1="330" x2="1290" y2="330" stroke="#4ba64b" style="stroke-width:calc(var(--k,1)*2px)" vector-effect="non-scaling-stroke"/><text x="1299.5" y="326.5" font-size="12.5" fill="#828282">5</text><line x1="1290" y1="347" x2="1325" y2="347" stroke="#a74848" style="stroke-width:calc(var(--k,1)*2px)" vector-effect="non-scaling-stroke"/><line x1="1253" y1="347" x2="1290" y2="347" stroke="#4ba64b" style="stroke-width:calc(var(--k,1)*2px)" vector-effect="non-scaling-stroke"/><text x="1299.5" y="343.5" font-size="12.5" fill="#828282">6</text><text x="1367.5" y="264.5" font-size="12.5" text-anchor="end" fill="#828282">GND</text><text x="1367.5" y="281.5" font-size="12.5" text-anchor="end" fill="#828282">CTS</text><text x="1367.5" y="299.5" font-size="12.5" text-anchor="end" fill="#828282">VCC</text><text x="1367.5" y="316.5" font-size="12.5" text-anchor="end" fill="#828282">TXD</text><text x="1367.5" y="334.5" font-size="12.5" text-anchor="end" fill="#828282">RXD</text><text x="1367.5" y="351.5" font-size="12.5" text-anchor="end" fill="#828282">RTS</text><text x="1253" y="259" font-size="16" fill="#828282">GND</text><text x="1253" y="294" font-size="16" fill="#828282">VCC</text><text x="1253" y="311" font-size="16" fill="#828282">PA0</text><text x="1253" y="329" font-size="16" fill="#828282">PA1</text><path d="M1249.5 260.5h8M1253.5 256.5v8" stroke="#7a7a7a" style="stroke-width:calc(var(--k,1)*1px)" vector-effect="non-scaling-stroke" fill="none"/><path d="M1249.5 295.5h8M1253.5 291.5v8" stroke="#7a7a7a" style="stroke-width:calc(var(--k,1)*1px)" vector-effect="non-scaling-stroke" fill="none"/><path d="M1249.5 312.5h8M1253.5 308.5v8" stroke="#7a7a7a" style="stroke-width:calc(var(--k,1)*1px)" vector-effect="non-scaling-stroke" fill="none"/><path d="M1249.5 330.5h8M1253.5 326.5v8" stroke="#7a7a7a" style="stroke-width:calc(var(--k,1)*1px)" vector-effect="non-scaling-stroke" fill="none"/><path d="M1286.5 347.5h8M1290.5 343.5v8" stroke="#a74848" style="stroke-width:calc(var(--k,1)*1px)" vector-effect="non-scaling-stroke" fill="none"/><text x="1340" y="247" font-size="16" text-anchor="middle" fill="#828282">(Black)</text><text x="1340" y="367.5" font-size="16" text-anchor="middle" fill="#828282">(Green)</text><text x="710" y="288.5" font-size="16" fill="#828282">IC1</text><rect x="710" y="295" width="333" height="245" stroke="#a74848" style="stroke-width:calc(var(--k,1)*2px)" vector-effect="non-scaling-stroke" fill="none"/><line x1="675" y1="435" x2="710" y2="435" stroke="#a74848" style="stroke-width:calc(var(--k,1)*2px)" vector-effect="non-scaling-stroke"/><line x1="675" y1="522" x2="710" y2="522" stroke="#a74848" style="stroke-width:calc(var(--k,1)*2px)" vector-effect="non-scaling-stroke"/><text x="686" y="431" font-size="13.5" fill="#828282">1</text><text x="677.5" y="519.5" font-size="13.5" fill="#828282">14</text><text x="727" y="421" font-size="13" text-anchor="middle" fill="#a74848">+</text><text x="726.5" y="440.5" font-size="13.7" fill="#828282">VCC</text><text x="726.5" y="527.5" font-size="13.7" fill="#828282">GND</text><line x1="1043" y1="312" x2="1078.5" y2="312" stroke="#a74848" style="stroke-width:calc(var(--k,1)*2px)" vector-effect="non-scaling-stroke"/><text x="1058.5" y="309.5" font-size="13.5" fill="#828282">4</text><text x="1025.5" y="317.5" font-size="13.7" text-anchor="end" fill="#828282">(PCINT11/RESET/DW)PB3</text><line x1="1043" y1="330" x2="1078.5" y2="330" stroke="#a74848" style="stroke-width:calc(var(--k,1)*2px)" vector-effect="non-scaling-stroke"/><text x="1058.5" y="327.5" font-size="13.5" fill="#828282">5</text><text x="1025.5" y="335.5" font-size="13.7" text-anchor="end" fill="#828282">(PCINT10/INT0/OC0A/CKOUT)PB2</text><line x1="1043" y1="347" x2="1078.5" y2="347" stroke="#a74848" style="stroke-width:calc(var(--k,1)*2px)" vector-effect="non-scaling-stroke"/><text x="1058.5" y="344.5" font-size="13.5" fill="#828282">3</text><text x="1025.5" y="352.5" font-size="13.7" text-anchor="end" fill="#828282">(PCINT9/XTAL2)PB1</text><line x1="1043" y1="365" x2="1078.5" y2="365" stroke="#a74848" style="stroke-width:calc(var(--k,1)*2px)" vector-effect="non-scaling-stroke"/><text x="1058.5" y="362.5" font-size="13.5" fill="#828282">2</text><text x="1025.5" y="370.5" font-size="13.7" text-anchor="end" fill="#828282">(PCINT8/XTAL1/CLKI)PB0</text><line x1="1043" y1="400" x2="1078.5" y2="400" stroke="#a74848" style="stroke-width:calc(var(--k,1)*2px)" vector-effect="non-scaling-stroke"/><text x="1058.5" y="397.5" font-size="13.5" fill="#828282">6</text><text x="1025.5" y="405.5" font-size="13.7" text-anchor="end" fill="#828282">(PCINT7/ICP/OC0B/ADC7)PA7</text><line x1="1043" y1="417" x2="1078.5" y2="417" stroke="#a74848" style="stroke-width:calc(var(--k,1)*2px)" vector-effect="non-scaling-stroke"/><text x="1058.5" y="414.5" font-size="13.5" fill="#828282">7</text><text x="1025.5" y="422.5" font-size="13.7" text-anchor="end" fill="#828282">(PCINT6/OC1A/SDA/MOSI/ADC6)PA6</text><line x1="1043" y1="435" x2="1078.5" y2="435" stroke="#a74848" style="stroke-width:calc(var(--k,1)*2px)" vector-effect="non-scaling-stroke"/><text x="1058.5" y="432.5" font-size="13.5" fill="#828282">8</text><text x="1025.5" y="440.5" font-size="13.7" text-anchor="end" fill="#828282">(PCINT5/OC1B/MISO/DO/ADC5)PA5</text><line x1="1043" y1="452" x2="1078.5" y2="452" stroke="#a74848" style="stroke-width:calc(var(--k,1)*2px)" vector-effect="non-scaling-stroke"/><text x="1058.5" y="449.5" font-size="13.5" fill="#828282">9</text><text x="1025.5" y="457.5" font-size="13.7" text-anchor="end" fill="#828282">(PCINT4/T1/SCL/USCK/ADC4)PA4</text><line x1="1043" y1="470" x2="1078.5" y2="470" stroke="#a74848" style="stroke-width:calc(var(--k,1)*2px)" vector-effect="non-scaling-stroke"/><text x="1058.5" y="467.5" font-size="13.5" fill="#828282">10</text><text x="1025.5" y="475.5" font-size="13.7" text-anchor="end" fill="#828282">(PCINT3/T0/ADC3)PA3</text><line x1="1043" y1="487" x2="1078.5" y2="487" stroke="#a74848" style="stroke-width:calc(var(--k,1)*2px)" vector-effect="non-scaling-stroke"/><text x="1058.5" y="484.5" font-size="13.5" fill="#828282">11</text><text x="1025.5" y="492.5" font-size="13.7" text-anchor="end" fill="#828282">(PCINT2/AIN1/ADC2)PA2</text><line x1="1043" y1="505" x2="1078.5" y2="505" stroke="#a74848" style="stroke-width:calc(var(--k,1)*2px)" vector-effect="non-scaling-stroke"/><text x="1058.5" y="502.5" font-size="13.5" fill="#828282">12</text><text x="1025.5" y="510.5" font-size="13.7" text-anchor="end" fill="#828282">(PCINT1/AIN0/ADC1)PA1</text><line x1="1043" y1="522" x2="1078.5" y2="522" stroke="#a74848" style="stroke-width:calc(var(--k,1)*2px)" vector-effect="non-scaling-stroke"/><text x="1058.5" y="519.5" font-size="13.5" fill="#828282">13</text><text x="1025.5" y="527.5" font-size="13.7" text-anchor="end" fill="#828282">(PCINT0/AREF/ADC0)PA0</text><line x1="1078.5" y1="312" x2="1113" y2="312" stroke="#4ba64b" style="stroke-width:calc(var(--k,1)*2px)" vector-effect="non-scaling-stroke"/><text x="1095" y="311.5" font-size="16" fill="#828282">PB3</text><path d="M1091.5 312.5h8M1095.5 308.5v8" stroke="#7a7a7a" style="stroke-width:calc(var(--k,1)*1px)" vector-effect="non-scaling-stroke" fill="none"/><line x1="1078.5" y1="330" x2="1113" y2="330" stroke="#4ba64b" style="stroke-width:calc(var(--k,1)*2px)" vector-effect="non-scaling-stroke"/><text x="1113" y="329.5" font-size="16" fill="#828282">PB2</text><path d="M1109.5 330.5h8M1113.5 326.5v8" stroke="#7a7a7a" style="stroke-width:calc(var(--k,1)*1px)" vector-effect="non-scaling-stroke" fill="none"/><line x1="1078.5" y1="347" x2="1132" y2="347" stroke="#4ba64b" style="stroke-width:calc(var(--k,1)*2px)" vector-effect="non-scaling-stroke"/><text x="1095" y="346.5" font-size="16" fill="#828282">PB1</text><path d="M1091.5 347.5h8M1095.5 343.5v8" stroke="#7a7a7a" style="stroke-width:calc(var(--k,1)*1px)" vector-effect="non-scaling-stroke" fill="none"/><line x1="1078.5" y1="365" x2="1132" y2="365" stroke="#4ba64b" style="stroke-width:calc(var(--k,1)*2px)" vector-effect="non-scaling-stroke"/><text x="1095" y="364.5" font-size="16" fill="#828282">PB0</text><path d="M1091.5 365.5h8M1095.5 361.5v8" stroke="#7a7a7a" style="stroke-width:calc(var(--k,1)*1px)" vector-effect="non-scaling-stroke" fill="none"/><line x1="1078.5" y1="400" x2="1518" y2="400" stroke="#4ba64b" style="stroke-width:calc(var(--k,1)*2px)" vector-effect="non-scaling-stroke"/><text x="1113" y="399.5" font-size="16" fill="#828282">PA7</text><path d="M1109.5 400.5h8M1113.5 396.5v8" stroke="#7a7a7a" style="stroke-width:calc(var(--k,1)*1px)" vector-effect="non-scaling-stroke" fill="none"/><line x1="1078.5" y1="417" x2="1148" y2="417" stroke="#4ba64b" style="stroke-width:calc(var(--k,1)*2px)" vector-effect="non-scaling-stroke"/><text x="1113" y="416.5" font-size="16" fill="#828282">MOSI</text><path d="M1109.5 417.5h8M1113.5 413.5v8" stroke="#7a7a7a" style="stroke-width:calc(var(--k,1)*1px)" vector-effect="non-scaling-stroke" fill="none"/><line x1="1078.5" y1="435" x2="1184" y2="435" stroke="#4ba64b" style="stroke-width:calc(var(--k,1)*2px)" vector-effect="non-scaling-stroke"/><text x="1113" y="434.5" font-size="16" fill="#828282">MISO</text><path d="M1109.5 435.5h8M1113.5 431.5v8" stroke="#7a7a7a" style="stroke-width:calc(var(--k,1)*1px)" vector-effect="non-scaling-stroke" fill="none"/><line x1="1078.5" y1="452" x2="1132" y2="452" stroke="#4ba64b" style="stroke-width:calc(var(--k,1)*2px)" vector-effect="non-scaling-stroke"/><text x="1113" y="451.5" font-size="16" fill="#828282">SCK</text><path d="M1109.5 452.5h8M1113.5 448.5v8" stroke="#7a7a7a" style="stroke-width:calc(var(--k,1)*1px)" vector-effect="non-scaling-stroke" fill="none"/><line x1="1078.5" y1="505" x2="1113" y2="505" stroke="#4ba64b" style="stroke-width:calc(var(--k,1)*2px)" vector-effect="non-scaling-stroke"/><text x="1095.5" y="504.5" font-size="16" fill="#828282">PA1</text><path d="M1092.5 505.5h8M1096.5 501.5v8" stroke="#7a7a7a" style="stroke-width:calc(var(--k,1)*1px)" vector-effect="non-scaling-stroke" fill="none"/><line x1="1078.5" y1="522" x2="1113" y2="522" stroke="#4ba64b" style="stroke-width:calc(var(--k,1)*2px)" vector-effect="non-scaling-stroke"/><text x="1095.5" y="521.5" font-size="16" fill="#828282">PA0</text><path d="M1092.5 522.5h8M1096.5 518.5v8" stroke="#7a7a7a" style="stroke-width:calc(var(--k,1)*1px)" vector-effect="non-scaling-stroke" fill="none"/><text x="710" y="556" font-size="16" fill="#828282">ATTINY44-SSU</text><text x="639.5" y="241.5" font-size="16" fill="#828282">PB3</text><path d="M636.5 241.5h8M640.5 237.5v8" stroke="#7a7a7a" style="stroke-width:calc(var(--k,1)*1px)" vector-effect="non-scaling-stroke" fill="none"/><line x1="640" y1="241" x2="640" y2="277" stroke="#4ba64b" style="stroke-width:calc(var(--k,1)*2px)" vector-effect="non-scaling-stroke"/><line x1="640" y1="277" x2="640" y2="295" stroke="#a74848" style="stroke-width:calc(var(--k,1)*2px)" vector-effect="non-scaling-stroke"/><path d="M640 295 L646.6 296 L633.4 300.5 L646.6 305 L633.4 309.5 L646.6 314 L633.4 318.5 L646.6 323 L633.4 327.5 L640 329.5" stroke="#a74848" style="stroke-width:calc(var(--k,1)*1.8px)" vector-effect="non-scaling-stroke" fill="none" stroke-linejoin="round"/><line x1="640" y1="329.5" x2="640" y2="347" stroke="#a74848" style="stroke-width:calc(var(--k,1)*2px)" vector-effect="non-scaling-stroke"/><path d="M640 347 L675 364.5" stroke="#4ba64b" style="stroke-width:calc(var(--k,1)*1.6px)" vector-effect="non-scaling-stroke" fill="none"/><line x1="675" y1="364" x2="675" y2="435" stroke="#4ba64b" style="stroke-width:calc(var(--k,1)*2px)" vector-effect="non-scaling-stroke"/><text x="657" y="399.5" font-size="16" fill="#828282">VCC</text><path d="M653.5 400.5h8M657.5 396.5v8" stroke="#7a7a7a" style="stroke-width:calc(var(--k,1)*1px)" vector-effect="non-scaling-stroke" fill="none"/><text transform="translate(629,337) rotate(-90)" font-size="16" fill="#828282">R1</text><text transform="translate(662,337) rotate(-90)" font-size="16" fill="#828282">10K</text><line x1="604" y1="522" x2="675" y2="522" stroke="#4ba64b" style="stroke-width:calc(var(--k,1)*2px)" vector-effect="non-scaling-stroke"/><text x="622.5" y="522" font-size="16" fill="#828282">GND</text><path d="M617.5 522.5h8M621.5 518.5v8" stroke="#7a7a7a" style="stroke-width:calc(var(--k,1)*1px)" vector-effect="non-scaling-stroke" fill="none"/><text x="1271.5" y="478.5" font-size="16" fill="#828282">U$6</text><rect x="1271" y="487" width="70" height="53" stroke="#a74848" style="stroke-width:calc(var(--k,1)*2px)" vector-effect="non-scaling-stroke" fill="none"/><line x1="1197.5" y1="505" x2="1254.5" y2="505" stroke="#4ba64b" style="stroke-width:calc(var(--k,1)*2px)" vector-effect="non-scaling-stroke"/><line x1="1254.5" y1="505" x2="1297" y2="505" stroke="#a74848" style="stroke-width:calc(var(--k,1)*2px)" vector-effect="non-scaling-stroke"/><line x1="1297" y1="495" x2="1297" y2="515" stroke="#a74848" style="stroke-width:calc(var(--k,1)*2px)" vector-effect="non-scaling-stroke"/><rect x="1303" y="495.5" width="7" height="19" stroke="#a74848" style="stroke-width:calc(var(--k,1)*2px)" vector-effect="non-scaling-stroke" fill="none"/><line x1="1315" y1="495" x2="1315" y2="515" stroke="#a74848" style="stroke-width:calc(var(--k,1)*2px)" vector-effect="non-scaling-stroke"/><line x1="1315" y1="505" x2="1359" y2="505" stroke="#a74848" style="stroke-width:calc(var(--k,1)*2px)" vector-effect="non-scaling-stroke"/><line x1="1359" y1="505" x2="1411.5" y2="505" stroke="#4ba64b" style="stroke-width:calc(var(--k,1)*2px)" vector-effect="non-scaling-stroke"/><path d="M1280.5 502L1283.5 505L1280.5 508L1277.5 505z" fill="#a74848"/><path d="M1333.5 502L1336.5 505L1333.5 508L1330.5 505z" fill="#a74848"/><path d="M1306.5 525L1309.5 528L1306.5 531L1303.5 528z" fill="#a74848"/><path d="M1280.5 505 V528 H1289 M1289 520 V536 M1294 520 V536 M1294 528 H1318 M1318 520 V536 M1324 520 V536 M1324 528 H1333.5 V505" stroke="#a74848" style="stroke-width:calc(var(--k,1)*2px)" vector-effect="non-scaling-stroke" fill="none"/><line x1="1306.5" y1="528" x2="1306.5" y2="557" stroke="#a74848" style="stroke-width:calc(var(--k,1)*2px)" vector-effect="non-scaling-stroke"/><line x1="1306.5" y1="557" x2="1306.5" y2="610.5" stroke="#4ba64b" style="stroke-width:calc(var(--k,1)*2px)" vector-effect="non-scaling-stroke"/><path d="M1303.5 505.5h6M1306.5 502.5v6" stroke="#a74848" style="stroke-width:calc(var(--k,1)*1px)" vector-effect="non-scaling-stroke" fill="none"/><text x="1260.5" y="501.5" font-size="13.5" fill="#828282">1</text><text x="1343.5" y="501.5" font-size="13.5" fill="#828282">3</text><text transform="translate(1303,550) rotate(-90)" font-size="12.5" fill="#828282">2</text><text x="1324" y="556.5" font-size="16" fill="#828282">20 MHz</text><text x="1307" y="591" font-size="16" fill="#828282">GND</text><path d="M1302.5 591.5h8M1306.5 587.5v8" stroke="#7a7a7a" style="stroke-width:calc(var(--k,1)*1px)" vector-effect="non-scaling-stroke" fill="none"/><text x="1200.5" y="503.5" font-size="16" fill="#828282">PB0</text><path d="M1196.5 505.5h8M1200.5 501.5v8" stroke="#7a7a7a" style="stroke-width:calc(var(--k,1)*1px)" vector-effect="non-scaling-stroke" fill="none"/><text x="1394" y="503.5" font-size="16" fill="#828282">PB1</text><path d="M1390.5 505.5h8M1394.5 501.5v8" stroke="#7a7a7a" style="stroke-width:calc(var(--k,1)*1px)" vector-effect="non-scaling-stroke" fill="none"/><line x1="605" y1="609" x2="605" y2="645" stroke="#4ba64b" style="stroke-width:calc(var(--k,1)*2px)" vector-effect="non-scaling-stroke"/><path d="M605 645 H622" stroke="#4ba64b" style="stroke-width:calc(var(--k,1)*2px)" vector-effect="non-scaling-stroke" fill="none"/><path d="M622 645 V663 H605" stroke="#a74848" style="stroke-width:calc(var(--k,1)*2px)" vector-effect="non-scaling-stroke" fill="none"/><line x1="605" y1="645" x2="605" y2="667.5" stroke="#a74848" style="stroke-width:calc(var(--k,1)*2px)" vector-effect="non-scaling-stroke"/><circle cx="605" cy="663" r="2.3" fill="#a74848"/><path d="M605 641 L609 645 L605 649 L601 645z" fill="#4ba64b" stroke="#4ba64b" style="stroke-width:calc(var(--k,1)*1px)" vector-effect="non-scaling-stroke" stroke-linejoin="round"/><line x1="596" y1="666.5" x2="605" y2="698" stroke="#a74848" style="stroke-width:calc(var(--k,1)*2px)" vector-effect="non-scaling-stroke"/><path d="M584 666.5 H574.5 V693 H584 M574.5 680 H584 M587 680 H592 M595 680 H600" stroke="#a74848" style="stroke-width:calc(var(--k,1)*2px)" vector-effect="non-scaling-stroke" fill="none"/><path d="M602.5 680.5h8M606.5 676.5v8" stroke="#a74848" style="stroke-width:calc(var(--k,1)*1px)" vector-effect="non-scaling-stroke" fill="none"/><circle cx="605" cy="698" r="2.3" fill="#a74848"/><path d="M605 698 H622 V715.5" stroke="#a74848" style="stroke-width:calc(var(--k,1)*2px)" vector-effect="non-scaling-stroke" fill="none"/><line x1="605" y1="698" x2="605" y2="715" stroke="#a74848" style="stroke-width:calc(var(--k,1)*2px)" vector-effect="non-scaling-stroke"/><path d="M605 715.5 H622" stroke="#4ba64b" style="stroke-width:calc(var(--k,1)*2px)" vector-effect="non-scaling-stroke" fill="none"/><path d="M605 711.5 L609 715.5 L605 719.5 L601 715.5z" fill="#4ba64b" stroke="#4ba64b" style="stroke-width:calc(var(--k,1)*1px)" vector-effect="non-scaling-stroke" stroke-linejoin="round"/><text transform="translate(601.5,660) rotate(-90)" font-size="12" fill="#828282">3</text><text transform="translate(618.5,660) rotate(-90)" font-size="12" fill="#828282">4</text><text transform="translate(601.5,708) rotate(-90)" font-size="12" fill="#828282">1</text><text transform="translate(618.5,711) rotate(-90)" font-size="12" fill="#828282">2</text><text transform="translate(560,697) rotate(-90)" font-size="16" fill="#828282">S1</text><text x="605.5" y="626.5" font-size="16" fill="#828282">VCC</text><path d="M601.5 627.5h8M605.5 623.5v8" stroke="#7a7a7a" style="stroke-width:calc(var(--k,1)*1px)" vector-effect="non-scaling-stroke" fill="none"/><text x="605.5" y="732.5" font-size="16" fill="#828282">PB2</text><path d="M601.5 733.5h8M605.5 729.5v8" stroke="#7a7a7a" style="stroke-width:calc(var(--k,1)*1px)" vector-effect="non-scaling-stroke" fill="none"/><line x1="605" y1="715" x2="605" y2="750" stroke="#4ba64b" style="stroke-width:calc(var(--k,1)*2px)" vector-effect="non-scaling-stroke"/><line x1="587" y1="749" x2="587" y2="803" stroke="#4ba64b" style="stroke-width:calc(var(--k,1)*2px)" vector-effect="non-scaling-stroke"/><line x1="587" y1="803" x2="587" y2="820" stroke="#a74848" style="stroke-width:calc(var(--k,1)*2px)" vector-effect="non-scaling-stroke"/><path d="M587 820 L593.6 821 L580.4 825.5 L593.6 830 L580.4 834.5 L593.6 839 L580.4 843.5 L593.6 848 L580.4 852.5 L587 854.5" stroke="#a74848" style="stroke-width:calc(var(--k,1)*1.8px)" vector-effect="non-scaling-stroke" fill="none" stroke-linejoin="round"/><line x1="587" y1="854.5" x2="587" y2="872.5" stroke="#a74848" style="stroke-width:calc(var(--k,1)*2px)" vector-effect="non-scaling-stroke"/><line x1="587" y1="872.5" x2="587" y2="925" stroke="#4ba64b" style="stroke-width:calc(var(--k,1)*2px)" vector-effect="non-scaling-stroke"/><line x1="569" y1="925" x2="588" y2="925" stroke="#4ba64b" style="stroke-width:calc(var(--k,1)*2px)" vector-effect="non-scaling-stroke"/><text x="588" y="784.5" font-size="16" fill="#828282">PB2</text><path d="M583.5 784.5h8M587.5 780.5v8" stroke="#7a7a7a" style="stroke-width:calc(var(--k,1)*1px)" vector-effect="non-scaling-stroke" fill="none"/><text x="588" y="907.5" font-size="16" fill="#828282">GND</text><path d="M583.5 908.5h8M587.5 904.5v8" stroke="#7a7a7a" style="stroke-width:calc(var(--k,1)*1px)" vector-effect="non-scaling-stroke" fill="none"/><text transform="translate(576,863) rotate(-90)" font-size="16" fill="#828282">R3</text><text transform="translate(608.5,863) rotate(-90)" font-size="16" fill="#828282">10K</text><line x1="745" y1="697.5" x2="745" y2="733" stroke="#4ba64b" style="stroke-width:calc(var(--k,1)*2px)" vector-effect="non-scaling-stroke"/><line x1="745" y1="733" x2="745" y2="750" stroke="#a74848" style="stroke-width:calc(var(--k,1)*2px)" vector-effect="non-scaling-stroke"/><line x1="731" y1="750" x2="759" y2="750" stroke="#a74848" style="stroke-width:calc(var(--k,1)*2px)" vector-effect="non-scaling-stroke"/><line x1="745" y1="750" x2="745" y2="754.5" stroke="#a74848" style="stroke-width:calc(var(--k,1)*1px)" vector-effect="non-scaling-stroke"/><text x="745" y="697.5" font-size="16" fill="#828282">GND</text><path d="M741.5 698.5h8M745.5 694.5v8" stroke="#7a7a7a" style="stroke-width:calc(var(--k,1)*1px)" vector-effect="non-scaling-stroke" fill="none"/><text x="728" y="768" font-size="16" fill="#828282">GND</text><line x1="902" y1="733" x2="955.5" y2="733" stroke="#4ba64b" style="stroke-width:calc(var(--k,1)*2px)" vector-effect="non-scaling-stroke"/><line x1="955.5" y1="733" x2="977.5" y2="733" stroke="#a74848" style="stroke-width:calc(var(--k,1)*2px)" vector-effect="non-scaling-stroke"/><line x1="977.5" y1="721.5" x2="977.5" y2="743.5" stroke="#a74848" style="stroke-width:calc(var(--k,1)*2px)" vector-effect="non-scaling-stroke"/><line x1="985" y1="721.5" x2="985" y2="743.5" stroke="#a74848" style="stroke-width:calc(var(--k,1)*2px)" vector-effect="non-scaling-stroke"/><line x1="985" y1="733" x2="1007.5" y2="733" stroke="#a74848" style="stroke-width:calc(var(--k,1)*2px)" vector-effect="non-scaling-stroke"/><line x1="1007.5" y1="733" x2="1061.5" y2="733" stroke="#4ba64b" style="stroke-width:calc(var(--k,1)*2px)" vector-effect="non-scaling-stroke"/><path d="M987.5 733.5h8M991.5 729.5v8" stroke="#a74848" style="stroke-width:calc(var(--k,1)*1px)" vector-effect="non-scaling-stroke" fill="none"/><text x="902" y="732" font-size="16" fill="#828282">VCC</text><path d="M899.5 733.5h8M903.5 729.5v8" stroke="#7a7a7a" style="stroke-width:calc(var(--k,1)*1px)" vector-effect="non-scaling-stroke" fill="none"/><text x="1026" y="732" font-size="16" fill="#828282">GND</text><path d="M1022.5 733.5h8M1026.5 729.5v8" stroke="#7a7a7a" style="stroke-width:calc(var(--k,1)*1px)" vector-effect="non-scaling-stroke" fill="none"/><text x="965" y="715" font-size="16" fill="#828282">C1</text><text x="965" y="759" font-size="16" fill="#828282">1 uF</text><line x1="1236" y1="697" x2="1236" y2="768.5" stroke="#4ba64b" style="stroke-width:calc(var(--k,1)*2px)" vector-effect="non-scaling-stroke"/><line x1="1236" y1="768.5" x2="1236" y2="819" stroke="#a74848" style="stroke-width:calc(var(--k,1)*2px)" vector-effect="non-scaling-stroke"/><line x1="1236" y1="819" x2="1236" y2="855" stroke="#4ba64b" style="stroke-width:calc(var(--k,1)*2px)" vector-effect="non-scaling-stroke"/><path d="M1226.5 785 H1245.5 L1236 802 Z M1226.5 802 H1245.5" stroke="#a74848" style="stroke-width:calc(var(--k,1)*2px)" vector-effect="non-scaling-stroke" fill="none"/><path d="M1222 789 L1213 798 M1223 797 L1214 806" stroke="#a74848" style="stroke-width:calc(var(--k,1)*2px)" vector-effect="non-scaling-stroke" fill="none"/><path d="M1210.5 800.5 l3-8 5 5z M1211.5 808.5 l3-8 5 5z" fill="#a74848"/><text x="1236.5" y="733" font-size="16" fill="#828282">PA7</text><path d="M1232.5 733.5h8M1236.5 729.5v8" stroke="#7a7a7a" style="stroke-width:calc(var(--k,1)*1px)" vector-effect="non-scaling-stroke" fill="none"/><text transform="translate(1260,816) rotate(-90)" font-size="16" fill="#828282">U$5</text><text transform="translate(1275.5,816) rotate(-90)" font-size="16" fill="#828282">LEDFAB1206</text><line x1="1236" y1="855" x2="1236" y2="871.5" stroke="#a74848" style="stroke-width:calc(var(--k,1)*2px)" vector-effect="non-scaling-stroke"/><path d="M1236 871.5 L1242.6 872.5 L1229.4 877.0 L1242.6 881.5 L1229.4 886.0 L1242.6 890.5 L1229.4 895.0 L1242.6 899.5 L1229.4 904.0 L1236 906.0" stroke="#a74848" style="stroke-width:calc(var(--k,1)*1.8px)" vector-effect="non-scaling-stroke" fill="none" stroke-linejoin="round"/><line x1="1236" y1="906" x2="1236" y2="924.5" stroke="#a74848" style="stroke-width:calc(var(--k,1)*2px)" vector-effect="non-scaling-stroke"/><line x1="1236" y1="924.5" x2="1236" y2="960" stroke="#4ba64b" style="stroke-width:calc(var(--k,1)*2px)" vector-effect="non-scaling-stroke"/><text transform="translate(1225,916) rotate(-90)" font-size="16" fill="#828282">R2</text><text transform="translate(1258,916) rotate(-90)" font-size="16" fill="#828282">500</text><text x="1237" y="960" font-size="16" fill="#828282">GND</text><path d="M1232.5 960.5h8M1236.5 956.5v8" stroke="#7a7a7a" style="stroke-width:calc(var(--k,1)*1px)" vector-effect="non-scaling-stroke" fill="none"/></g></svg><svg class="a" style="left:68px;top:131px" width="66" height="63" viewBox="68 131 66 63"><rect x="68" y="131" width="66" height="63" fill="#c5dff8"/><use href="#schg" style="--k:0.4" opacity="0.6" transform="translate(68.3,130.9) scale(0.077) translate(-488,-147)"/></svg><!--/SCH-->
<div class="a" style="left:1900px;top:133px;width:20px;height:848px;background:#f0f0f0;border-left:1px solid #e8e8e8"></div>
<svg class="a" style="left:1900px;top:133px" width="20" height="850"><path d="M5 13.5 l4.5-5 4.5 5z" fill="#9a9a9a"/><path d="M5 836 l4.5 5 4.5-5z" fill="#9a9a9a"/></svg>
<div class="a" style="left:162px;top:983px;width:1736px;height:20px;background:#f0f0f0;border-top:1px solid #e8e8e8"></div>
<svg class="a" style="left:162px;top:983px" width="1736" height="20"><path d="M12 5 l-5 4.5 5 4.5z" fill="#9a9a9a"/><path d="M1724 5 l5 4.5 -5 4.5z" fill="#9a9a9a"/></svg>
<div id="status" class="a"></div>
<div class="a" style="left:6px;top:1011px;font-size:13.1px;color:#222;white-space:nowrap">Left-click&amp;drag to define group (or left-click to start defining a group polygon)</div>
<div class="a" style="left:1876px;top:1005px;width:1px;height:26px;background:#d0d0d0"></div>
<div class="a" style="left:1898px;top:1005px;width:1px;height:26px;background:#d0d0d0"></div>
<svg class="a" style="left:1880px;top:1008px" width="18" height="22"><path d="M8.5 2 L2.5 12 h5.5 l-1 7 L13 8 h-5z" fill="#62b42e"/></svg>
<div id="taskbar" class="a">
<div class="a" style="left:0;top:0;width:1920px;height:1px;background:#9a9a9a"></div>
<div class="a" style="left:0;top:1px;width:1920px;height:1px;background:#111"></div>
<div class="a" style="left:352px;top:1px;width:66px;height:46px;border:1px solid #6a6a6a;border-radius:2px;background:linear-gradient(180deg,#5e5e5e 0,#474747 45%,#333 100%)"></div>
<div class="a" style="left:772px;top:1px;width:66px;height:46px;border:1px solid #666;border-radius:2px;background:linear-gradient(160deg,#6a6a6a 0,#4a4a4a 40%,#383838 100%)"></div>
<div class="a" style="left:982px;top:1px;width:66px;height:46px;border:1px solid #666;border-radius:2px;background:linear-gradient(160deg,#6a6a6a 0,#4a4a4a 40%,#383838 100%)"></div>
<div class="a" style="left:1052px;top:1px;width:58px;height:46px;border:1px solid #f0f0f0;outline:1px solid #222;border-radius:3px;background:linear-gradient(160deg,#dcdcdc 0,#b4b4b4 35%,#888 55%,#8a8a8a 80%,#a0a0a0 100%)"></div>
<div class="a" style="left:1111px;top:2px;width:2px;height:45px;background:#777"></div><div class="a" style="left:1115px;top:2px;width:2px;height:45px;background:#555"></div>
<div class="a" style="left:1636px;top:2px;width:84px;height:46px;border-radius:14px 0 0 0;background:#2e2e2e;border-left:1px solid #3c3c3c;border-top:1px solid #3c3c3c"></div>
<div class="a" style="left:1905px;top:2px;width:14px;height:46px;border:1px solid #555;background:linear-gradient(180deg,#4a4a4a,#2a2a2a)"></div>
<svg class="a" style="left:0;top:0" width="1920" height="48" viewBox="0 1032 1920 48">
<defs>
<radialGradient id="orb" cx="50%" cy="35%" r="60%"><stop offset="0" stop-color="#7ec8f0"/><stop offset=".5" stop-color="#2a7fc0"/><stop offset="1" stop-color="#0c3a6a"/></radialGradient>
<linearGradient id="chg" x1="0" y1="0" x2="0" y2="1"><stop offset="0" stop-color="#e8f4fc"/><stop offset="1" stop-color="#c8e2f4"/></linearGradient>
</defs>
<circle cx="33" cy="1056" r="21" fill="url(#orb)" stroke="#1a2a3a" stroke-width="1.5"/>
<ellipse cx="33" cy="1047" rx="15" ry="8" fill="rgba(255,255,255,.25)"/>
<path d="M22 1046 q5-3 10 0 v9 q-5-3 -10 0z" fill="#f0542a"/><path d="M34 1046 q5 3 10 0 v9 q-5 3 -10 0z" fill="#7cc242"/>
<path d="M22 1057 q5-3 10 0 v9 q-5-3 -10 0z" fill="#2d9ce4"/><path d="M34 1057 q5 3 10 0 v9 q-5 3 -10 0z" fill="#fbbc14"/>
<!-- sticky -->
<path d="M88 1059 l5-18 16 4 -5 18z" fill="#9fd88a"/><rect x="93" y="1046" width="16" height="16" fill="#8cc0f0"/><path d="M98 1049 l18-4 6 18 -18 5z" fill="#f8e27a"/>
<!-- IE -->
<ellipse cx="175" cy="1055" rx="21" ry="8.5" transform="rotate(-38 175 1055)" fill="none" stroke="#f2c21a" stroke-width="2.8"/>
<text x="176" y="1071" font-size="46" font-weight="bold" fill="#1fa8e8" text-anchor="middle" font-family="Liberation Sans">e</text>
<path d="M158 1071 q-3-5 6-15" fill="none" stroke="#f2c21a" stroke-width="2.8"/>
<!-- WPS -->
<rect x="225" y="1036" width="39.5" height="40" rx="8" fill="#2f9af5"/><path d="M233 1048 l5 13 7-12 7 12 5-13" fill="none" stroke="#fff" stroke-width="2"/>
<!-- media -->
<rect x="298" y="1043" width="30" height="31" fill="#7ab8d8"/><rect x="296" y="1045" width="30" height="29" fill="#9ccce4"/><circle cx="310" cy="1058" r="10" fill="#f07a1a"/><path d="M307 1052 l9 6 -9 6z" fill="#fff"/>
<!-- explorer -->
<path d="M367 1043 h14 l3 3 h20 v28 h-37z" fill="#e8c860"/><rect x="372" y="1040" width="30" height="10" fill="#f4f0e0"/><rect x="367" y="1050" width="37" height="24" fill="#f2d77a"/><rect x="373" y="1061" width="26" height="14" rx="3" fill="#6cc0e8"/><rect x="380" y="1068" width="12" height="5" fill="#f2d77a"/>
<!-- outlook -->
<path d="M437 1040 l20-3 v40 l-20-3z" fill="#0a64c8"/><rect x="456" y="1046" width="17" height="21" fill="#fff" stroke="#0a64c8" stroke-width="2"/><path d="M458 1049 l6 7 6-7" fill="none" stroke="#0a64c8" stroke-width="2"/><ellipse cx="446.5" cy="1057" rx="5.5" ry="7" fill="none" stroke="#fff" stroke-width="3"/>
<!-- ppt -->
<path d="M507 1040 l18-3 v40 l-18-3z" fill="#d24726"/><rect x="524" y="1044" width="19" height="28" fill="#fff" stroke="#d24726" stroke-width="2"/><path d="M528 1050 a5 5 0 1 0 5 5 h-5z" fill="#d24726"/><text x="510" y="1064" font-size="19" font-weight="bold" fill="#fff" font-family="Liberation Sans">P</text>
<!-- excel -->
<path d="M577 1040 l18-3 v40 l-18-3z" fill="#1e7145"/><rect x="594" y="1044" width="19" height="28" fill="#fff" stroke="#1e7145" stroke-width="2"/><path d="M598 1049 h11 M598 1054 h11 M598 1059 h11 M598 1064 h11 M603 1046 v22" stroke="#1e7145" stroke-width="1.5"/><text x="578.5" y="1064" font-size="19" font-weight="bold" fill="#fff" font-family="Liberation Sans">X</text>
<!-- word -->
<path d="M647 1040 l18-3 v40 l-18-3z" fill="#2b579a"/><rect x="664" y="1044" width="19" height="28" fill="#fff" stroke="#2b579a" stroke-width="2"/><path d="M668 1049 h11 M668 1054 h11 M668 1059 h11 M668 1064 h11" stroke="#2b579a" stroke-width="1.8"/><text x="647" y="1063" font-size="16" font-weight="bold" fill="#fff" font-family="Liberation Sans">W</text>
<!-- onenote -->
<path d="M717 1040 l18-3 v40 l-18-3z" fill="#80397b"/><rect x="734" y="1044" width="16" height="28" fill="#fff" stroke="#80397b" stroke-width="2"/><path d="M738 1049 h9 M738 1054 h9 M738 1059 h9 M738 1064 h9" stroke="#80397b" stroke-width="2"/><text x="718.5" y="1064" font-size="18" font-weight="bold" fill="#fff" font-family="Liberation Sans">N</text>
<!-- chrome -->
<path d="M804.5 1055.5 L788.48 1046.25 A18.5 18.5 0 0 1 820.52 1046.25z" fill="#dd4b3e"/>
<path d="M804.5 1055.5 L820.52 1046.25 A18.5 18.5 0 0 1 804.5 1074z" fill="#fcc934"/>
<path d="M804.5 1055.5 L804.5 1074 A18.5 18.5 0 0 1 788.48 1046.25z" fill="#1e9e4c"/>
<circle cx="804.5" cy="1055.5" r="8.5" fill="#fff"/><circle cx="804.5" cy="1055.5" r="6.8" fill="#4c8bf5"/>
<!-- fusion -->
<rect x="855" y="1036" width="40" height="40" fill="url(#chg)"/><path d="M867 1040 h16 l-2 6 h-8 l-1 5 h8 l-2 6 h-7 l-2 14 h-6z" fill="#f08a24"/><text x="878" y="1073" font-size="7" fill="#2a8ad0" font-family="Liberation Sans" font-weight="bold">360</text>
<!-- scanner -->
<path d="M927 1063 l30-8 l6 4 l-28 9z" fill="#8a8a8a"/><path d="M931 1062 l24-6 4 3 -22 6z" fill="#6ab0e8"/><path d="M928 1055 l26-12 4 3 -24 12z" fill="#555"/>
<!-- skype -->
<circle cx="1013.5" cy="1055" r="14" fill="#00aff0"/><circle cx="1004" cy="1045" r="6" fill="#00aff0"/><circle cx="1023" cy="1065" r="6" fill="#00aff0"/>
<text x="1013.5" y="1062" font-size="19" font-weight="bold" fill="#fff" text-anchor="middle" font-family="Liberation Sans">S</text>
<circle cx="1027" cy="1069" r="6.5" fill="#e01e2c" stroke="#fff" stroke-width="1.2"/><path d="M1024.5 1066.5 l5 5 M1029.5 1066.5 l-5 5" stroke="#fff" stroke-width="1.6"/>
<!-- eagle -->
<defs><linearGradient id="eg" x1="0" y1="0" x2="1" y2="1"><stop offset="0" stop-color="#e8902e"/><stop offset=".5" stop-color="#c06a1c"/><stop offset="1" stop-color="#f0a040"/></linearGradient></defs>
<path d="M1068 1037 H1089 Q1093 1037 1093 1041 V1045.5 Q1086 1041 1078 1047 V1052.5 H1091 V1056 Q1082 1055.5 1077.5 1061 Q1076 1066 1082 1067 H1093 V1073 Q1093 1075 1089 1075 H1068 Z" fill="url(#eg)"/>
<path d="M1069 1038 Q1075 1046 1075 1056 Q1075 1066 1069 1074" fill="none" stroke="#f0b060" stroke-width=".8" opacity=".8"/>
<!-- tray -->
<text x="1605" y="1060" font-size="14.5" fill="#fff" font-family="Liberation Sans">EN</text>
<rect x="1650" y="1044" width="55" height="25" fill="#c8c8c8" stroke="#999" stroke-width=".8"/><rect x="1705" y="1052" width="3.5" height="9" fill="#c8c8c8"/>
<path d="M1670 1058 h4 M1676 1058 h4 M1682 1058 h4" stroke="#1a2a6a" stroke-width="1.4"/>
<path d="M1731 1060 l5-6 5 6z" fill="#e8e8e8"/>
<rect x="1763.5" y="1049" width="9.5" height="16" rx="2" fill="none" stroke="#f0f0f0" stroke-width="1.8"/><rect x="1766" y="1046.5" width="4.5" height="2.5" fill="#f0f0f0"/>
<path d="M1791 1053 h4 l7-6 v19 l-7-6 h-4z" fill="#f0f0f0"/><path d="M1805 1053 q2 4 0 8" fill="none" stroke="#ccc" stroke-width="1"/>
<text x="1861" y="1051.5" font-size="14.5" fill="#fff" text-anchor="middle" font-family="Liberation Sans">7:04 PM</text>
<text x="1861" y="1074" font-size="14.5" fill="#fff" text-anchor="middle" font-family="Liberation Sans">3/6/2018</text>
</svg>
</div>
</body></html>
